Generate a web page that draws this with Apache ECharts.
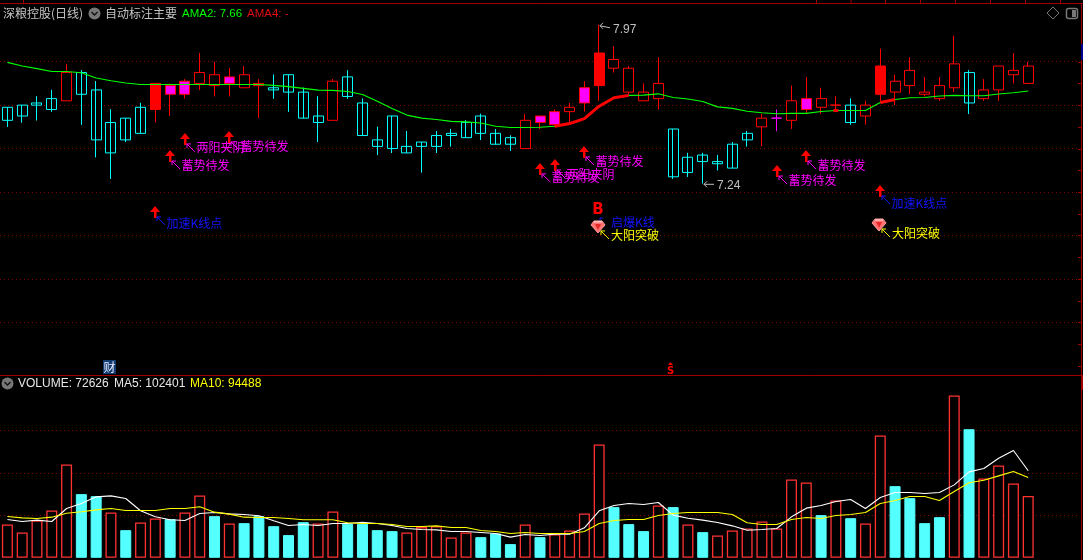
<!DOCTYPE html>
<html><head><meta charset="utf-8">
<style>html,body{margin:0;padding:0;background:#000;overflow:hidden}#c{width:1083px;height:560px}</style>
<script src="https://cdn.jsdelivr.net/npm/echarts@6/dist/echarts.min.js"></script>
</head><body><div id="c"></div>
<script>
const open_=[7.59,7.60,7.61,7.63,7.62,7.75,7.67,7.52,7.54,7.59,7.58,7.65,7.65,7.70,7.69,7.70,7.68,7.69,7.68,7.74,7.66,7.55,7.53,7.73,7.61,7.44,7.55,7.41,7.43,7.46,7.47,7.52,7.55,7.47,7.45,7.40,7.52,7.51,7.57,7.61,7.69,7.77,7.66,7.62,7.63,7.49,7.36,7.37,7.34,7.42,7.47,7.50,7.54,7.53,7.58,7.59,7.60,7.60,7.55,7.65,7.66,7.69,7.65,7.63,7.68,7.75,7.63,7.67,7.74,7.70];
const close_=[7.53,7.55,7.60,7.58,7.75,7.65,7.44,7.38,7.44,7.47,7.70,7.69,7.71,7.75,7.74,7.73,7.74,7.70,7.67,7.66,7.54,7.52,7.71,7.64,7.46,7.41,7.40,7.38,7.41,7.41,7.46,7.45,7.47,7.42,7.42,7.53,7.55,7.57,7.59,7.68,7.84,7.81,7.77,7.66,7.70,7.27,7.29,7.34,7.33,7.31,7.44,7.54,7.54,7.62,7.63,7.63,7.60,7.52,7.60,7.78,7.71,7.76,7.66,7.69,7.79,7.61,7.67,7.78,7.76,7.78];
const low_=[7.50,7.52,7.53,7.57,7.62,7.51,7.36,7.26,7.43,7.47,7.52,7.55,7.63,7.67,7.64,7.64,7.68,7.54,7.63,7.57,7.54,7.43,7.53,7.63,7.46,7.37,7.38,7.38,7.29,7.38,7.41,7.45,7.44,7.42,7.39,7.40,7.49,7.50,7.52,7.57,7.62,7.75,7.65,7.62,7.58,7.26,7.27,7.24,7.30,7.31,7.41,7.41,7.48,7.49,7.56,7.56,7.57,7.51,7.51,7.62,7.60,7.65,7.64,7.62,7.66,7.56,7.62,7.62,7.70,7.70];
const high_=[7.59,7.60,7.64,7.67,7.79,7.76,7.71,7.58,7.54,7.61,7.70,7.70,7.72,7.84,7.80,7.77,7.78,7.72,7.74,7.74,7.68,7.64,7.72,7.76,7.63,7.50,7.55,7.48,7.43,7.48,7.49,7.53,7.56,7.49,7.46,7.56,7.55,7.58,7.61,7.71,7.97,7.87,7.78,7.70,7.82,7.49,7.38,7.38,7.37,7.43,7.48,7.56,7.58,7.69,7.73,7.68,7.64,7.63,7.62,7.86,7.74,7.82,7.73,7.73,7.92,7.76,7.72,7.78,7.84,7.80];
const solidRed=[10,40,59];
const magenta=[11,12,15,36,37,39,52,54];
const ama2=[7.797,7.780,7.768,7.755,7.755,7.749,7.725,7.712,7.702,7.695,7.695,7.695,7.695,7.695,7.695,7.695,7.695,7.695,7.691,7.685,7.677,7.669,7.668,7.663,7.649,7.618,7.585,7.554,7.540,7.534,7.525,7.523,7.518,7.503,7.497,7.497,7.498,7.503,7.515,7.538,7.595,7.634,7.645,7.646,7.652,7.635,7.628,7.617,7.592,7.585,7.572,7.565,7.560,7.562,7.562,7.571,7.575,7.575,7.575,7.612,7.626,7.634,7.635,7.642,7.645,7.643,7.643,7.651,7.657,7.665];
const ama4Idx=[37,38,39,40,41,42,null,56,null,59,60];
const volume=[39200,29800,43900,55700,109800,74900,72500,53300,32500,41600,46300,45500,53300,73300,49000,40400,40800,49000,37200,26700,41900,40400,54500,40000,40000,32500,31400,29800,36100,37200,23900,29800,24300,28600,16100,39200,24300,27800,32100,52100,133300,59600,39600,31400,61500,59600,39200,30200,26300,32100,34500,42700,34500,92100,88600,50200,67400,46600,40400,143900,84300,70200,40800,47800,190900,151300,93300,108600,87400,72626];
const volDown=[5,6,8,11,14,16,17,18,19,20,23,24,25,26,32,33,34,36,41,42,43,45,47,55,57,60,61,62,63,65];
const ma5=[45100,42700,44300,42700,58000,63900,71700,72900,69800,55300,48200,44700,43900,52100,53300,51700,51000,49400,43500,38000,39200,38000,40400,40400,41900,40400,38000,34500,33300,32900,31000,31000,29800,28600,24300,27400,26300,27800,27800,35300,55300,61500,63900,62700,65100,50200,46600,44300,41600,37600,32500,33300,34500,48200,58400,61500,66200,68600,58000,71000,76800,76800,75700,76800,85800,101100,105100,117200,126200,102401];
const ma10=[48600,47000,46300,47800,52500,54100,56400,58000,55700,55700,55700,58000,58000,60000,53700,51400,47800,47400,47400,46300,44700,44700,44700,41200,40400,40400,39200,36800,36800,37600,35700,35700,32100,31000,28600,29800,28600,28600,28600,31000,40400,43900,45100,45100,49800,52100,53300,53300,53300,51000,41200,39200,39200,45100,47400,46300,49800,51000,53300,63900,67400,72100,72100,67400,78000,88200,91300,96400,101500,94488];
const signalIdx=[12,11,15,10,36,37,39,52,54,59];
const signalPrice=[7.472,7.393,7.481,7.136,7.334,7.352,7.412,7.324,7.393,7.232];
const signalText=['两阳夹阴','蓄势待发','蓄势待发','加速K线点','蓄势待发','两阳夹阴','蓄势待发','蓄势待发','蓄势待发','加速K线点'];
const gemIdx=[40,59];
const gemPrice=[7.039,7.048];
const extremeIdx=[40,47];
const extremePrice=[7.97,7.24];
const extremeText=['7.97','7.24'];
const slotCount=73;

const cats=Array.from({length:slotCount},(_,i)=>String(i));
const RED='#ff0000',CYAN='#00ffff',MAG='#ff00ff',BLUE='#1414ff',YEL='#ffff00',GRID='#8c0000';
const FONT='12px "Noto Sans CJK SC"';
const LAT='12px "Liberation Sans"';
const dots={color:GRID,type:[1,3],width:1};
function isDown(i){return open_[i]>close_[i];}
const candles=open_.map((o,i)=>{
  const c=close_[i],down=isDown(i);
  let fill='#000',bd=RED;
  if(solidRed.includes(i)){fill=RED;}
  if(magenta.includes(i)){fill=MAG;bd=RED;}
  if(i===52){bd=MAG;}
  if(down){fill='#000';bd=CYAN;}
  return {value:[o,c,low_[i],high_[i]],itemStyle:{color:fill,color0:fill,borderColor:bd,borderColor0:bd,borderColorDoji:bd}};
});
function snap(p){const d=Math.round(p*2);return (d+1)%2===0?d/2:(d-1)/2;}
function signalItem(p,api){
  const i=p.dataIndex,pt=api.coord([api.value(0),api.value(1)]);
  const x=Math.round(pt[0]),y=pt[1];
  const t=signalText[i],isBlue=t.indexOf('加速')===0,col=isBlue?BLUE:MAG,ty=y+(isBlue?18:15);
  return {type:'group',children:[
    {type:'polygon',shape:{points:[[x,y],[x+5,y+6],[x+1.5,y+6],[x+1.5,y+12],[x-1,y+12],[x-1,y+6],[x-5,y+6]]},style:{fill:RED}},
    {type:'polyline',shape:{points:[[x+2,y+11],[x+10,y+19]]},style:{stroke:col,fill:null,lineWidth:1}},
    {type:'polyline',shape:{points:[[x+2,y+15],[x+2,y+11],[x+6,y+11]]},style:{stroke:col,fill:null,lineWidth:1}},
    {type:'text',style:{text:t,x:x+11.5,y:ty,fill:col,font:FONT,verticalAlign:'middle'}}
  ]};
}
function gemItem(p,api){
  const pt=api.coord([api.value(0),api.value(1)]);
  const x=Math.round(pt[0])-1,y=pt[1];
  const kids=[
    {type:'polygon',shape:{points:[[x-4,y-6],[x+4,y-6],[x+7,y-2],[x,y+6],[x-7,y-2]]},style:{fill:'#ff7070',stroke:'#ff9a9a',lineWidth:1}},
    {type:'polygon',shape:{points:[[x-3,y-3],[x+3,y-3],[x,y+3]]},style:{fill:'#e82828'}},
    {type:'polyline',shape:{points:[[x-4,y-5],[x+4,y-5]]},style:{stroke:'#ffe0e0',fill:null,lineWidth:1}},
    {type:'polyline',shape:{points:[[x+3,y+4],[x+11,y+12]]},style:{stroke:YEL,fill:null,lineWidth:1}},
    {type:'polyline',shape:{points:[[x+3,y+8],[x+3,y+4],[x+7,y+4]]},style:{stroke:YEL,fill:null,lineWidth:1}},
    {type:'text',style:{text:'大阳突破',x:x+13,y:y+8.5,fill:YEL,font:FONT,verticalAlign:'middle'}}
  ];
  if(p.dataIndex===0){
    kids.unshift(
      {type:'polyline',shape:{points:[[x+2,y-6],[x+2,y-9],[x+5,y-9]]},style:{stroke:BLUE,fill:null,lineWidth:1}},
      {type:'text',style:{text:'启爆K线',x:x+13,y:y-5,fill:BLUE,font:FONT,verticalAlign:'middle'}},
      {type:'text',style:{text:'B',x:x,y:y-17,fill:RED,font:'bold 15px "DejaVu Sans"',align:'center',verticalAlign:'middle'}}
    );
  }
  return {type:'group',children:kids};
}
function extremeItem(p,api){
  const i=p.dataIndex,pt=api.coord([api.value(0),api.value(1)]);
  const x=Math.round(pt[0]),y=pt[1],hi=i===0;
  const pts=hi?[[x+1,y+1],[x+11,y+3]]:[[x+1,y+1],[x+11,y+1]];
  return {type:'group',children:[
    {type:'polyline',shape:{points:pts},style:{stroke:'#c0c0c0',fill:null,lineWidth:1}},
    {type:'polyline',shape:{points:[[x+4,y-2],[x+1,y+1],[x+4,y+4]]},style:{stroke:'#c0c0c0',fill:null,lineWidth:1}},
    {type:'text',style:{text:extremeText[i],x:x+14,y:y+(hi?5:2),fill:'#c0c0c0',font:LAT,verticalAlign:'middle'}}
  ]};
}
function wickItem(p,api){
  const x=snap(api.coord([api.value(0),0])[0]);
  return {type:'line',shape:{x1:x,y1:api.coord([api.value(0),api.value(1)])[1],x2:x,y2:api.coord([api.value(0),api.value(2)])[1]},style:{stroke:CYAN,lineWidth:1}};
}

const ama4Data=ama2.map(()=>null);
ama4Idx.forEach(i=>{if(i!==null)ama4Data[i]=ama2[i];});
const rightTicks=[];for(let k=0;k<15;k++)rightTicks.push(61.7+k*21.72);
const topTicks=[23.5,816.5,851,885.5,920.5,955.5,990.5,1025.5,1060.5];
const line=(x1,y1,x2,y2,c,w)=>({type:'line',shape:{x1,y1,x2,y2},style:{stroke:c,lineWidth:w||1},silent:true});
const txt=(t,x,y,c,f)=>({type:'text',x,y,style:{text:t,fill:c,font:f||LAT,verticalAlign:'middle'},silent:true});
const chevron=(cx,cy)=>[
  {type:'circle',shape:{cx,cy,r:6},style:{fill:'#777'},silent:true},
  {type:'polyline',shape:{points:[[cx-3,cy-1.5],[cx,cy+1.5],[cx+3,cy-1.5]]},style:{stroke:'#111',lineWidth:1.3,fill:null},silent:true}
];
const graphic=[
  line(0,3.5,1083,3.5,'#a00000'),
  line(0,375.5,1083,375.5,'#a00000'),
  line(1081.5,3,1081.5,560,'#a00000'),
  {type:'rect',shape:{x:1081,y:375,width:2,height:15},style:{fill:'#a00000'},silent:true},
  {type:'rect',shape:{x:1081,y:44,width:2,height:16},style:{fill:'#000090'},silent:true},
  ...topTicks.map(x=>line(x,0,x,3,'#a00000')),
  ...rightTicks.map(y=>line(1078,Math.round(y)+.5,1081,Math.round(y)+.5,'#a00000')),
  txt('深粮控股(日线)',3,13.5,'#c4c4c4',FONT),
  ...chevron(94.5,13.5),
  txt('自动标注主要',105,13.5,'#c4c4c4',FONT),
  txt('AMA2: 7.66',182,13.5,'#00ff00','11.5px "Liberation Sans"'),
  txt('AMA4: -',247,13.5,'#e01010','11.5px "Liberation Sans"'),
  ...chevron(7.5,383.5),
  txt('VOLUME: 72626',18,383.5,'#e8e8e8'),
  txt('MA5: 102401',114,383.5,'#e8e8e8'),
  txt('MA10: 94488',190,383.5,'#ffff00'),
  {type:'polygon',shape:{points:[[1053,7],[1059,13],[1053,19],[1047,13]]},style:{stroke:'#777',fill:null,lineWidth:1},silent:true},
  {type:'rect',shape:{x:1066.5,y:8.5,width:11,height:10,r:2},style:{stroke:'#777',fill:null,lineWidth:1.5},silent:true},
  {type:'rect',shape:{x:1072,y:10,width:4,height:7},style:{fill:'#777'},silent:true},
  {type:'rect',shape:{x:103,y:360,width:13,height:14},style:{fill:'#123c70'},silent:true},
  txt('财',103.5,367,'#e8e8ff',FONT),
  {type:'polygon',shape:{points:[[670.5,362],[673,365],[668,365]]},style:{fill:RED},silent:true},
  txt('S',667,371,RED,'bold 10px "DejaVu Sans"')
];

const chart=echarts.init(document.getElementById('c'));
chart.setOption({
  backgroundColor:'#000',animation:false,tooltip:{show:false},
  grid:[
    {left:-1,width:1081,top:18.27,height:347.43},
    {left:-1,width:1081,top:387.8,height:170}
  ],
  xAxis:[0,1].map(g=>({type:'category',gridIndex:g,data:cats,axisLine:{show:false},axisTick:{show:false},axisLabel:{show:false},splitLine:{show:false}})),
  yAxis:[
    {type:'value',gridIndex:0,min:6.4,max:8.0,interval:0.2,axisLine:{show:false},axisTick:{show:false},axisLabel:{show:false},splitLine:{show:true,showMinLine:false,showMaxLine:false,lineStyle:dots}},
    {type:'value',gridIndex:1,min:0,max:200000,interval:50000,axisLine:{show:false},axisTick:{show:false},axisLabel:{show:false},splitLine:{show:true,showMinLine:false,showMaxLine:false,lineStyle:dots}}
  ],
  series:[
    {name:'through',type:'custom',xAxisIndex:0,yAxisIndex:0,z:4,renderItem:wickItem,clip:false,
      data:open_.map((o,i)=>[i,high_[i],low_[i],o>close_[i]?1:0]).filter(d=>d[3]),encode:{x:0,y:[1,2]}},
    {name:'K',type:'candlestick',xAxisIndex:0,yAxisIndex:0,z:3,barWidth:10.5,itemStyle:{borderWidth:1},data:candles},
    {name:'AMA2',type:'line',xAxisIndex:0,yAxisIndex:0,z:5,data:ama2,symbol:'none',lineStyle:{color:'#00ff00',width:1.1}},
    {name:'AMA4',type:'line',xAxisIndex:0,yAxisIndex:0,z:6,
      data:ama4Data.map((v,i)=>i===56?{value:v,symbol:'rect',symbolSize:[5,3],itemStyle:{color:RED}}:v),
      symbol:'none',connectNulls:false,lineStyle:{color:RED,width:3},itemStyle:{color:RED}},
    {name:'signals',type:'custom',xAxisIndex:0,yAxisIndex:0,z:7,clip:false,renderItem:signalItem,data:signalIdx.map((x,i)=>[x,signalPrice[i]]),encode:{x:0,y:1}},
    {name:'gems',type:'custom',xAxisIndex:0,yAxisIndex:0,z:8,clip:false,renderItem:gemItem,data:gemIdx.map((x,i)=>[x,gemPrice[i]]),encode:{x:0,y:1}},
    {name:'extremes',type:'custom',xAxisIndex:0,yAxisIndex:0,z:8,clip:false,renderItem:extremeItem,data:extremeIdx.map((x,i)=>[x,extremePrice[i]]),encode:{x:0,y:1}},
    {name:'VOLUME',type:'bar',xAxisIndex:1,yAxisIndex:1,z:3,barWidth:11,
      data:volume.map((v,i)=>{const d=volDown.includes(i);return {value:v,itemStyle:d?{color:'#54ffff',borderColor:'#54ffff',borderWidth:1}:{color:'#000',borderColor:'#ff3232',borderWidth:1.3}};})},
    {name:'MA5',type:'line',xAxisIndex:1,yAxisIndex:1,z:4,data:ma5,symbol:'none',lineStyle:{color:'#ffffff',width:1.1}},
    {name:'MA10',type:'line',xAxisIndex:1,yAxisIndex:1,z:5,data:ma10,symbol:'none',lineStyle:{color:'#ffff00',width:1.1}}
  ],
  graphic
});
</script></body></html>
